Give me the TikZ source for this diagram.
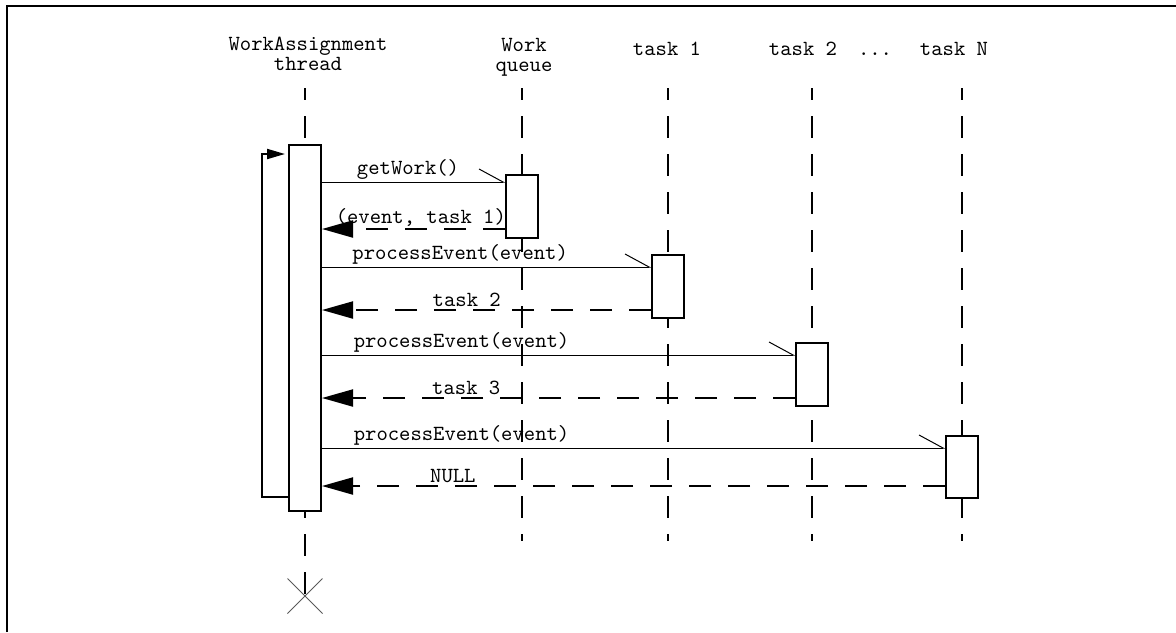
\documentclass[tikz,border=0pt]{standalone}
\usepackage{fontspec}
\usetikzlibrary{arrows.meta, shapes.misc}
\tikzstyle{frame} = [line width=1pt]
\tikzstyle{lifeline} = [line width=1pt, dash pattern=on 11pt off 8pt, dash phase=5pt]
\tikzstyle{actbox} = [draw, line width=1pt, fill=white, minimum width=16pt, inner sep=0pt, anchor=north]
\tikzstyle{call} = [line width=0.5pt, -{Straight Barb[left, length=12pt, width=13pt]}]
\tikzstyle{reply} = [line width=1pt, dash pattern=on 11pt off 8.5pt, -{Triangle[length=15.5pt, width=8.5pt]}]
\tikzstyle{loopback} = [line width=1pt, -{Triangle[length=9pt, width=5pt]}, shorten >=1.5pt]
\tikzstyle{head} = [font=\ttfamily\fontsize{10.8}{8}\selectfont, align=center, inner sep=0pt]
\tikzstyle{msg} = [font=\ttfamily\fontsize{10.8}{11}\selectfont, inner sep=1pt]

\begin{document}
\begin{tikzpicture}[x=0.5pt, y=-0.5pt]
    \useasboundingbox (0,0) rectangle (1176,632);
    \draw [frame] (7,632) -- (7,6) -- (1176,6);

    % object heads
    \node (hwa) [head] at (308,54) {WorkAssignment\\thread};
    \node (hwq) [head, font=\ttfamily\fontsize{10.8}{10}\selectfont] at (524,57) {Work\\queue};
    \node (ht1) [head, anchor=base] at (667,55) {task 1};
    \node (ht2) [head, anchor=base] at (803,55) {task 2};
    \node (hdots) [head, anchor=base] at (875,55) {...};
    \node (htn) [head, anchor=base] at (954,55) {task N};

    % lifelines
    \coordinate (twa) at (305,88);
    \node (kill) [cross out, draw=gray!70!black, line width=0.5pt, minimum size=17pt, inner sep=0pt] at (305,596) {};
    \draw [lifeline] (twa) -- (kill.center);
    \foreach \x/\n in {522/wq, 668/t1, 812/t2, 962/tn} {
        \coordinate (t\n) at (\x,88);
        \coordinate (b\n) at (\x,541);
        \draw [lifeline] (t\n) -- (b\n);
    }

    % activations
    \node (awa) [actbox, minimum height=183pt] at (305,144) {};
    \node (awq) [actbox, minimum height=31.5pt] at (522,174) {};
    \node (at1) [actbox, minimum height=31.5pt] at (668,254) {};
    \node (at2) [actbox, minimum height=31.5pt] at (812,342) {};
    \node (atn) [actbox, minimum height=31pt] at (962,435) {};

    \draw [loopback] (awa.west |- 0,497) -- (262,497) -- (262,154) -- (awa.west |- 0,154);

    % messages
    \draw [call] (awa.east |- 0,182) -- node[msg, anchor=south, pos=0.47] {getWork()} (awq.west |- 0,182);
    \draw [reply] (awq.west |- 0,229) -- node[msg, anchor=south, pos=0.46] {(event, task 1)} (awa.east |- 0,229);
    \draw [call] (awa.east |- 0,267) -- node[msg, anchor=south, pos=0.42] {processEvent(event)} (at1.west |- 0,267);
    \draw [reply] (at1.west |- 0,310) -- node[msg, anchor=south, pos=0.56] {task 2} (awa.east |- 0,310);
    \draw [call] (awa.east |- 0,355) -- node[msg, anchor=south, pos=0.295] {processEvent(event)} (at2.west |- 0,355);
    \draw [reply] (at2.west |- 0,398) -- node[msg, anchor=south, pos=0.695] {task 3} (awa.east |- 0,398);
    \draw [call] (awa.east |- 0,448) -- node[msg, anchor=south, pos=0.224] {processEvent(event)} (atn.west |- 0,448);
    \draw [reply] (atn.west |- 0,486) -- node[msg, anchor=south, pos=0.79] {NULL} (awa.east |- 0,486);
\end{tikzpicture}
\end{document}
